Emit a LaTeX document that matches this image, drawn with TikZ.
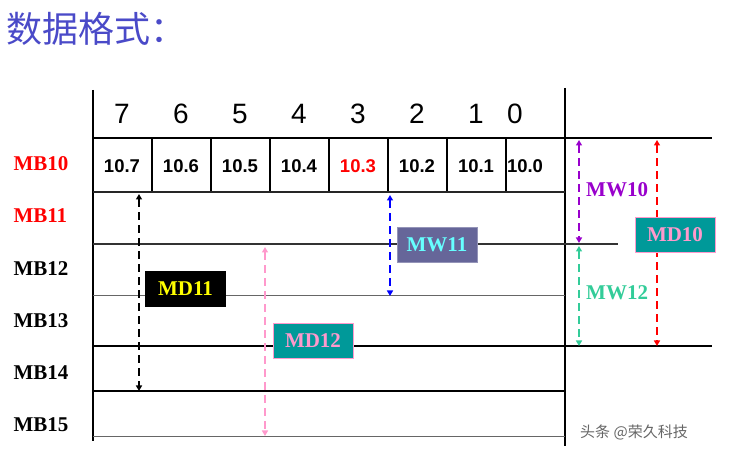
\documentclass[tikz,border=0pt]{standalone}
\usepackage{fontspec}
\setmainfont{Liberation Serif}
\newfontfamily\arialf{Liberation Sans}
\newfontfamily\cjk{Noto Sans CJK SC}
\usetikzlibrary{arrows.meta}
\definecolor{titleblue}{HTML}{4A4AC8}
\definecolor{tealbox}{HTML}{009999}
\definecolor{pinktxt}{HTML}{FF99CC}
\definecolor{slatebox}{HTML}{666699}
\definecolor{cyantxt}{HTML}{66FFFF}
\definecolor{purp}{HTML}{9900CC}
\definecolor{mint}{HTML}{33CC99}
\definecolor{mdyellow}{HTML}{FFFF00}
\definecolor{pinkarr}{HTML}{FF99CC}
\begin{document}
\begin{tikzpicture}[x=1pt,y=-1pt,
  rowlbl/.style={anchor=west,font=\bfseries\fontsize{21}{24}\selectfont},
  hdr/.style={font=\arialf\fontsize{28}{32}\selectfont},
  celltxt/.style={font=\arialf\bfseries\fontsize{18.5}{22}\selectfont},
  lbl/.style={font=\bfseries\fontsize{21}{24}\selectfont, inner sep=0pt},
  boxlbl/.style={lbl, minimum width=80, minimum height=35},
  darr/.style={line width=1.8, dash pattern=on 8pt off 5pt, {Triangle[width=6pt,length=5.5pt]}-{Triangle[width=6pt,length=5.5pt]}},
  grid/.style={line width=1.1}
]
\useasboundingbox (0,0) rectangle (729,454);
% title
\node[anchor=west, text=titleblue, font=\cjk\fontsize{36}{40}\selectfont, inner sep=0pt] (title) at (6,29) {数据格式：};
% main frame
\draw[line width=2.2] (93,90) -- (93,441);
\draw[line width=2.2] (565,88) -- (565,446);
\draw[line width=2] (93,138) -- (712,138);
\foreach \x in {152,211,270,329,388,447,506} \draw[grid] (\x,138) -- (\x,192);
\draw[grid,black!85] (93,192) -- (565,192);
\draw[grid,black!80] (93,244) -- (618,244);
\draw[line width=0.9,black!60] (93,295) -- (565,295);
\draw[line width=2] (93,346) -- (712,346);
\draw[line width=1.3] (93,391) -- (565,391);
\draw[line width=0.9,black!60] (93,436) -- (565,436);
% header digits
\foreach \d/\x in {7/122,6/181,5/240,4/299,3/358,2/417,1/476,0/515}
  \node[hdr] (h\d) at (\x,114) {\d};
% cell texts
\foreach \t/\x/\n in {10.7/122/7,10.6/181/6,10.5/240/5,10.4/299/4,10.2/417/2,10.1/476/1,10.0/525/0}
  \node[celltxt] (c\n) at (\x,166) {\t};
\node[celltxt,text=red] (c3) at (358,166) {10.3};
% row labels
\node[rowlbl,text=red] (mb10) at (10,164) {MB10};
\node[rowlbl,text=red] (mb11) at (10,216) {MB11};
\node[rowlbl] (mb12) at (10,269) {MB12};
\node[rowlbl] (mb13) at (10,321) {MB13};
\node[rowlbl] (mb14) at (10,373) {MB14};
\node[rowlbl] (mb15) at (10,425) {MB15};
% arrow end points
\coordinate (k1) at (139,194); \coordinate (k2) at (139,391);
\coordinate (p1) at (265,247); \coordinate (p2) at (265,436);
\coordinate (b1) at (390,195); \coordinate (b2) at (390,296);
\coordinate (v1) at (579,140); \coordinate (v2) at (579,243);
\coordinate (g1) at (579,246); \coordinate (g2) at (579,346);
\coordinate (r1) at (657,140); \coordinate (r2) at (657,346);
% arrows
\draw[darr,black] (k1) -- (k2);
\draw[darr,pinkarr] (p1) -- (p2);
\draw[darr,blue] (b1) -- (b2);
\draw[darr,purp] (v1) -- (v2);
\draw[darr,mint] (g1) -- (g2);
\draw[darr,red] (r1) -- (r2);
% labels
\node[boxlbl,fill=black,text=mdyellow,minimum width=81,minimum height=36] (md11) at (185.5,289) {MD11};
\node[boxlbl,fill=tealbox,draw=pinktxt,line width=0.6,text=pinktxt] (md12) at (313,340.5) {MD12};
\node[boxlbl,fill=slatebox,draw=slatebox!70,line width=0.6,text=cyantxt] (mw11) at (437,245) {MW11};
\node[boxlbl,fill=tealbox,draw=pinktxt,line width=0.6,text=pinktxt] (md10) at (675,234.5) {MD10};
\node[lbl,anchor=west,text=purp] (mw10) at (586,190) {MW10};
\node[lbl,anchor=west,text=mint] (mw12) at (586,293) {MW12};
% watermark
\node[anchor=west, text=black!60, font=\cjk\fontsize{15}{18}\selectfont, inner sep=0pt] (wm) at (580,432) {头条 @荣久科技};
\end{tikzpicture}
\end{document}
